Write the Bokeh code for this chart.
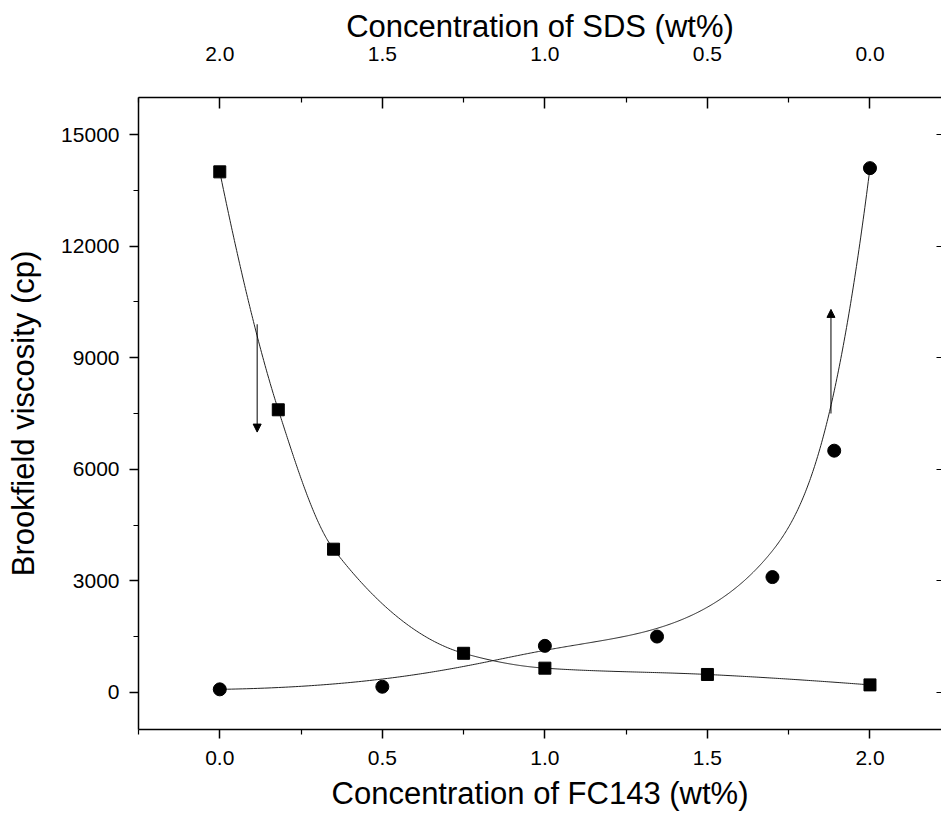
import numpy as np
from bokeh.plotting import figure
from bokeh.models import (LinearAxis, Range1d, FixedTicker, PrintfTickFormatter,
                          Arrow, NormalHead)
from bokeh.embed import file_html
from bokeh.resources import INLINE

# ---- data ----
fc143_sq = [0.0, 0.18, 0.35, 0.75, 1.0, 1.5, 2.0]
visc_sq = [14000, 7600, 3850, 1050, 650, 480, 200]

fc143_ci = [0.0, 0.5, 1.0, 1.345, 1.70, 1.89, 2.0]
visc_ci = [80, 150, 1250, 1500, 3100, 6500, 14100]

x_ticks = [0.0, 0.5, 1.0, 1.5, 2.0]
x_minor = [-0.25, 0.25, 0.75, 1.25, 1.75, 2.25]
sds_ticks = [2.0, 1.5, 1.0, 0.5, 0.0]
sds_minor = [2.25, 1.75, 1.25, 0.75, 0.25, -0.25]
y_ticks = [0, 3000, 6000, 9000, 12000, 15000]
y_minor = [1500, 4500, 7500, 10500, 13500]
SDS_TOTAL = 2.0

# annotation arrows (x, y_from, y_to)
arrow_down = (0.115, 9900, 7000)
arrow_up = (1.88, 7500, 10300)

X_START, X_END = -0.25, 2.22
Y_START, Y_END = -1000, 16000

FONT = "Liberation Sans"


def bspline(cx, cy, k=3, num=500):
    """Clamped uniform B-spline using the data points as control points."""
    cx = np.asarray(cx, float)
    cy = np.asarray(cy, float)
    n = len(cx)
    t = np.concatenate([np.zeros(k), np.linspace(0, 1, n - k + 1), np.ones(k)])
    u = np.linspace(0, 1, num)
    m = len(t) - 1
    N = np.zeros((num, m))
    for i in range(m):
        N[:, i] = ((t[i] <= u) & (u < t[i + 1])).astype(float)
    last = np.max(np.where(t[:-1] < t[1:])[0])
    N[u >= 1.0, :] = 0
    N[u >= 1.0, last] = 1
    for p in range(1, k + 1):
        Nn = np.zeros((num, m - p))
        for i in range(m - p):
            a = t[i + p] - t[i]
            b = t[i + p + 1] - t[i + 1]
            term = np.zeros(num)
            if a > 0:
                term += (u - t[i]) / a * N[:, i]
            if b > 0:
                term += (t[i + p + 1] - u) / b * N[:, i + 1]
            Nn[:, i] = term
        N = Nn
    return N @ cx, N @ cy


def pchip(x, y, per_seg=80):
    """Monotone piecewise cubic Hermite interpolation through the points."""
    x = np.asarray(x, float)
    y = np.asarray(y, float)
    n = len(x)
    h = np.diff(x)
    delta = np.diff(y) / h
    d = np.zeros(n)
    for k in range(1, n - 1):
        if delta[k - 1] * delta[k] > 0:
            w1 = 2 * h[k] + h[k - 1]
            w2 = h[k] + 2 * h[k - 1]
            d[k] = (w1 + w2) / (w1 / delta[k - 1] + w2 / delta[k])

    def end(h0, h1, d0, d1):
        s = ((2 * h0 + h1) * d0 - h0 * d1) / (h0 + h1)
        if np.sign(s) != np.sign(d0):
            s = 0.0
        elif np.sign(d0) != np.sign(d1) and abs(s) > abs(3 * d0):
            s = 3 * d0
        return s

    d[0] = end(h[0], h[1], delta[0], delta[1])
    d[-1] = end(h[-1], h[-2], delta[-1], delta[-2])
    xs, ys = [], []
    for k in range(n - 1):
        tt = np.linspace(0, 1, per_seg, endpoint=(k == n - 2))
        h00 = 2 * tt**3 - 3 * tt**2 + 1
        h10 = tt**3 - 2 * tt**2 + tt
        h01 = -2 * tt**3 + 3 * tt**2
        h11 = tt**3 - tt**2
        xs.append(x[k] + tt * h[k])
        ys.append(h00 * y[k] + h10 * h[k] * d[k] + h01 * y[k + 1] + h11 * h[k] * d[k + 1])
    return np.concatenate(xs), np.concatenate(ys)


p = figure(width=941, height=816, output_backend="svg", toolbar_location=None,
           x_range=Range1d(X_START, X_END), y_range=Range1d(Y_START, Y_END),
           min_border_left=138, min_border_right=0, min_border_top=97,
           min_border_bottom=87, x_axis_location=None, y_axis_location=None)
p.grid.visible = False
p.outline_line_color = None
p.background_fill_color = "white"
p.border_fill_color = "white"


def style_axis(ax, label_size="21px"):
    ax.axis_label_text_font = FONT
    ax.axis_label_text_font_style = "normal"
    ax.axis_label_text_font_size = "31px"
    ax.axis_label_text_color = "black"
    ax.major_label_text_font = FONT
    ax.major_label_text_font_size = label_size
    ax.major_label_text_color = "black"
    ax.axis_line_color = "black"
    ax.axis_line_width = 1.5
    ax.major_tick_line_color = "black"
    ax.minor_tick_line_color = "black"
    ax.major_tick_line_width = 1.5
    ax.minor_tick_line_width = 1.2


# bottom axis (FC143)
xb = LinearAxis(axis_label="Concentration of FC143 (wt%)",
                ticker=FixedTicker(ticks=x_ticks, minor_ticks=x_minor),
                formatter=PrintfTickFormatter(format="%.1f"))
style_axis(xb)
xb.major_tick_out = 9
xb.major_tick_in = 0
xb.minor_tick_out = 5
xb.minor_tick_in = 0
xb.major_label_standoff = 12
xb.axis_label_standoff = 8
p.add_layout(xb, "below")

# top axis (SDS)
p.extra_x_ranges = {"sds": Range1d(SDS_TOTAL - X_START, SDS_TOTAL - X_END)}
xt = LinearAxis(x_range_name="sds", axis_label="Concentration of SDS (wt%)",
                ticker=FixedTicker(ticks=sds_ticks, minor_ticks=sds_minor),
                formatter=PrintfTickFormatter(format="%.1f"))
style_axis(xt)
xt.major_tick_out = 0
xt.major_tick_in = 11
xt.minor_tick_out = 0
xt.minor_tick_in = 5
xt.major_label_standoff = 37
xt.axis_label_standoff = 0
p.add_layout(xt, "above")

# left axis
yl = LinearAxis(axis_label="Brookfield viscosity (cp)",
                ticker=FixedTicker(ticks=y_ticks, minor_ticks=y_minor),
                formatter=PrintfTickFormatter(format="%d"))
style_axis(yl)
yl.major_tick_out = 9
yl.major_tick_in = 0
yl.minor_tick_out = 5
yl.minor_tick_in = 0
yl.major_label_standoff = 10
yl.axis_label_standoff = 17
p.add_layout(yl, "left")

# right axis: inward ticks only, no labels drawn
yr = LinearAxis(ticker=FixedTicker(ticks=y_ticks, minor_ticks=[]))
yr.major_label_text_font_size = "1px"
yr.major_label_text_color = None
yr.major_label_standoff = 0
yr.major_tick_out = 0
yr.major_tick_in = 5
yr.major_tick_line_color = "black"
yr.major_tick_line_width = 1.2
yr.axis_line_color = None
p.add_layout(yr, "right")

# smoothed curves
sx, sy = pchip(fc143_sq, visc_sq)
cx, cy = bspline(fc143_ci, visc_ci)
p.line(sx, sy, line_color="#222222", line_width=1)
p.line(cx, cy, line_color="#222222", line_width=1)

p.scatter(fc143_sq, visc_sq, marker="square", size=12, fill_color="black",
          line_color="black")
p.scatter(fc143_ci, visc_ci, marker="circle", size=13, fill_color="black",
          line_color="black")

for (ax_, y0, y1) in (arrow_down, arrow_up):
    p.add_layout(Arrow(end=NormalHead(size=8, fill_color="black", line_color="black"),
                       x_start=ax_, y_start=y0, x_end=ax_, y_end=y1,
                       line_color="black", line_width=1))

open("out.html", "w").write(file_html(p, INLINE))
